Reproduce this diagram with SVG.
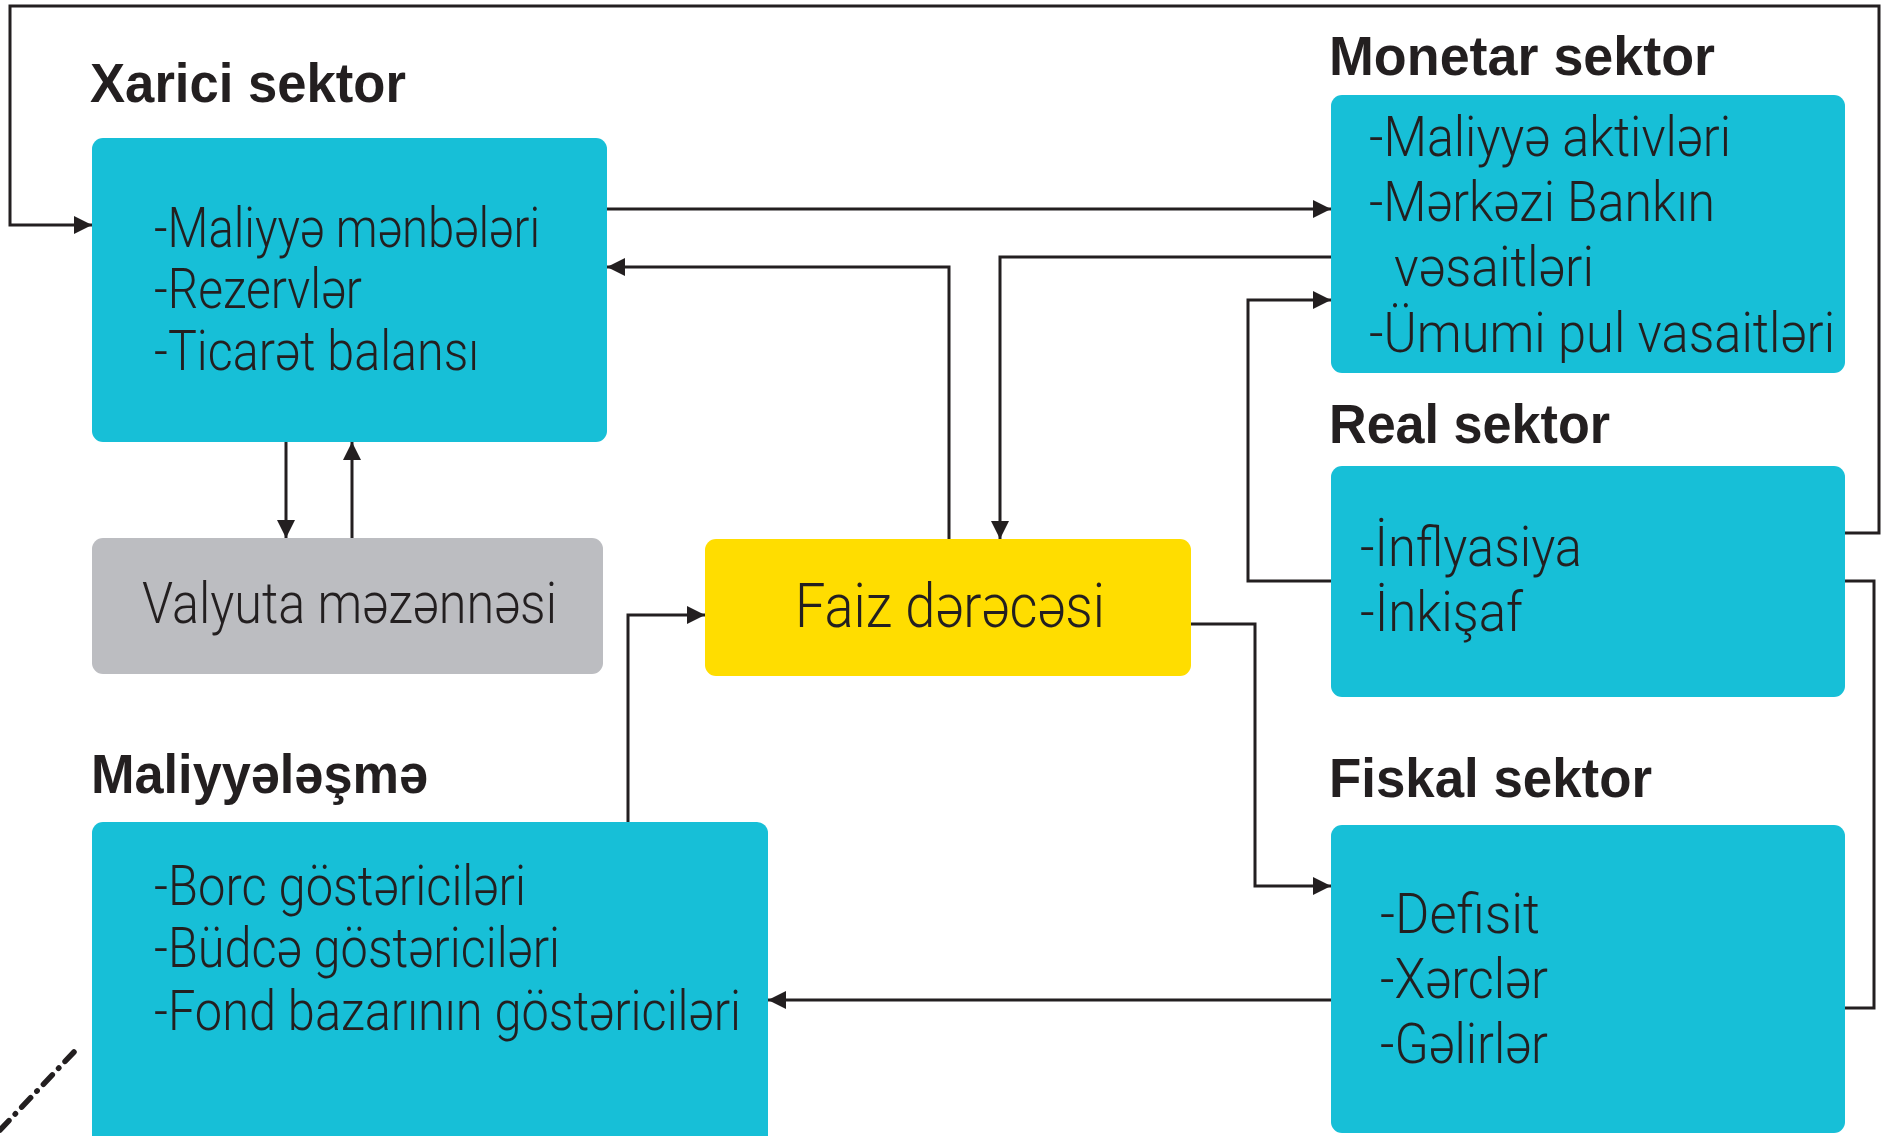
<svg xmlns="http://www.w3.org/2000/svg" width="1883" height="1136" viewBox="0 0 1883 1136">
<style>
.box{fill:#17BFD7}
.gray{fill:#BCBDC1}
.yel{fill:#FFDD00}
.title{font-family:"Liberation Sans",Arial,sans-serif;font-weight:700;font-size:56px;fill:#231F20}
.body{font-family:Roboto,"Liberation Sans",sans-serif;font-weight:300;font-size:55px;fill:#231F20}
.conn{fill:none;stroke:#231F20;stroke-width:3}
</style>
<defs>
<marker id="ah" markerUnits="userSpaceOnUse" markerWidth="18" markerHeight="18" viewBox="0 0 18 18" refX="18" refY="9" orient="auto">
<path d="M0,0 L18,9 L0,18 Z" fill="#231F20"/>
</marker>
</defs>
<rect width="1883" height="1136" fill="#FFFFFF"/>

<g id="xarici">
<text class="title" x="90" y="102" textLength="316" lengthAdjust="spacingAndGlyphs">Xarici sektor</text>
<rect class="box" x="92" y="138" width="515" height="304" rx="11"/>
<text class="body" x="154" y="247" textLength="386" lengthAdjust="spacingAndGlyphs">-Maliyyə mənbələri</text>
<text class="body" x="154" y="308" textLength="208" lengthAdjust="spacingAndGlyphs">-Rezervlər</text>
<text class="body" x="154" y="370" textLength="325" lengthAdjust="spacingAndGlyphs">-Ticarət balansı</text>
</g>

<g id="monetar">
<text class="title" x="1329" y="75" textLength="386" lengthAdjust="spacingAndGlyphs">Monetar sektor</text>
<rect class="box" x="1331" y="95" width="514" height="278" rx="11"/>
<text class="body" x="1369" y="156" textLength="362" lengthAdjust="spacingAndGlyphs">-Maliyyə aktivləri</text>
<text class="body" x="1369" y="221" textLength="346" lengthAdjust="spacingAndGlyphs">-Mərkəzi Bankın</text>
<text class="body" x="1394" y="286" textLength="200" lengthAdjust="spacingAndGlyphs">vəsaitləri</text>
<text class="body" x="1369" y="352" textLength="466" lengthAdjust="spacingAndGlyphs">-Ümumi pul vasaitləri</text>
</g>

<g id="real">
<text class="title" x="1329" y="443" textLength="281" lengthAdjust="spacingAndGlyphs">Real sektor</text>
<rect class="box" x="1331" y="466" width="514" height="231" rx="11"/>
<text class="body" x="1360" y="566" textLength="222" lengthAdjust="spacingAndGlyphs">-İnflyasiya</text>
<text class="body" x="1360" y="631" textLength="163" lengthAdjust="spacingAndGlyphs">-İnkişaf</text>
</g>

<g id="fiskal">
<text class="title" x="1329" y="797" textLength="323" lengthAdjust="spacingAndGlyphs">Fiskal sektor</text>
<rect class="box" x="1331" y="825" width="514" height="308" rx="11"/>
<text class="body" x="1380" y="933" textLength="160" lengthAdjust="spacingAndGlyphs">-Defisit</text>
<text class="body" x="1380" y="998" textLength="168" lengthAdjust="spacingAndGlyphs">-Xərclər</text>
<text class="body" x="1380" y="1063" textLength="168" lengthAdjust="spacingAndGlyphs">-Gəlirlər</text>
</g>

<g id="maliyyelesme">
<text class="title" x="91" y="793" textLength="337" lengthAdjust="spacingAndGlyphs">Maliyyələşmə</text>
<rect class="box" x="92" y="822" width="676" height="340" rx="11"/>
<text class="body" x="154" y="905" textLength="372" lengthAdjust="spacingAndGlyphs">-Borc göstəriciləri</text>
<text class="body" x="154" y="967" textLength="406" lengthAdjust="spacingAndGlyphs">-Büdcə göstəriciləri</text>
<text class="body" x="154" y="1030" textLength="587" lengthAdjust="spacingAndGlyphs">-Fond bazarının göstəriciləri</text>
</g>

<g id="valyuta">
<rect class="gray" x="92" y="538" width="511" height="136" rx="11"/>
<text class="body" style="font-size:57px" x="142" y="623" textLength="415" lengthAdjust="spacingAndGlyphs">Valyuta məzənnəsi</text>
</g>

<g id="faiz">
<rect class="yel" x="705" y="539" width="486" height="137" rx="11"/>
<text class="body" style="font-size:61px" x="795" y="627" textLength="310" lengthAdjust="spacingAndGlyphs">Faiz dərəcəsi</text>
</g>

<g id="connectors">
<path class="conn" d="M1845,533 H1879 V6 H10 V225 H92" marker-end="url(#ah)"/>
<path class="conn" d="M607,209 H1331" marker-end="url(#ah)"/>
<path class="conn" d="M1331,257 H1000 V539" marker-end="url(#ah)"/>
<path class="conn" d="M949,539 V267 H607" marker-end="url(#ah)"/>
<path class="conn" d="M1331,581 H1248 V300 H1331" marker-end="url(#ah)"/>
<path class="conn" d="M1845,581 H1874 V1008 H1845"/>
<path class="conn" d="M1191,624 H1255 V886 H1331" marker-end="url(#ah)"/>
<path class="conn" d="M1331,1000 H768" marker-end="url(#ah)"/>
<path class="conn" d="M628,822 V615 H705" marker-end="url(#ah)"/>
<path class="conn" d="M286,442 V538" marker-end="url(#ah)"/>
<path class="conn" d="M352,538 V442" marker-end="url(#ah)"/>
<path d="M0,1130 L74,1052" fill="none" stroke="#231F20" stroke-width="5.5" stroke-linecap="round" stroke-dasharray="13 9 0.5 9"/>
</g>
</svg>
